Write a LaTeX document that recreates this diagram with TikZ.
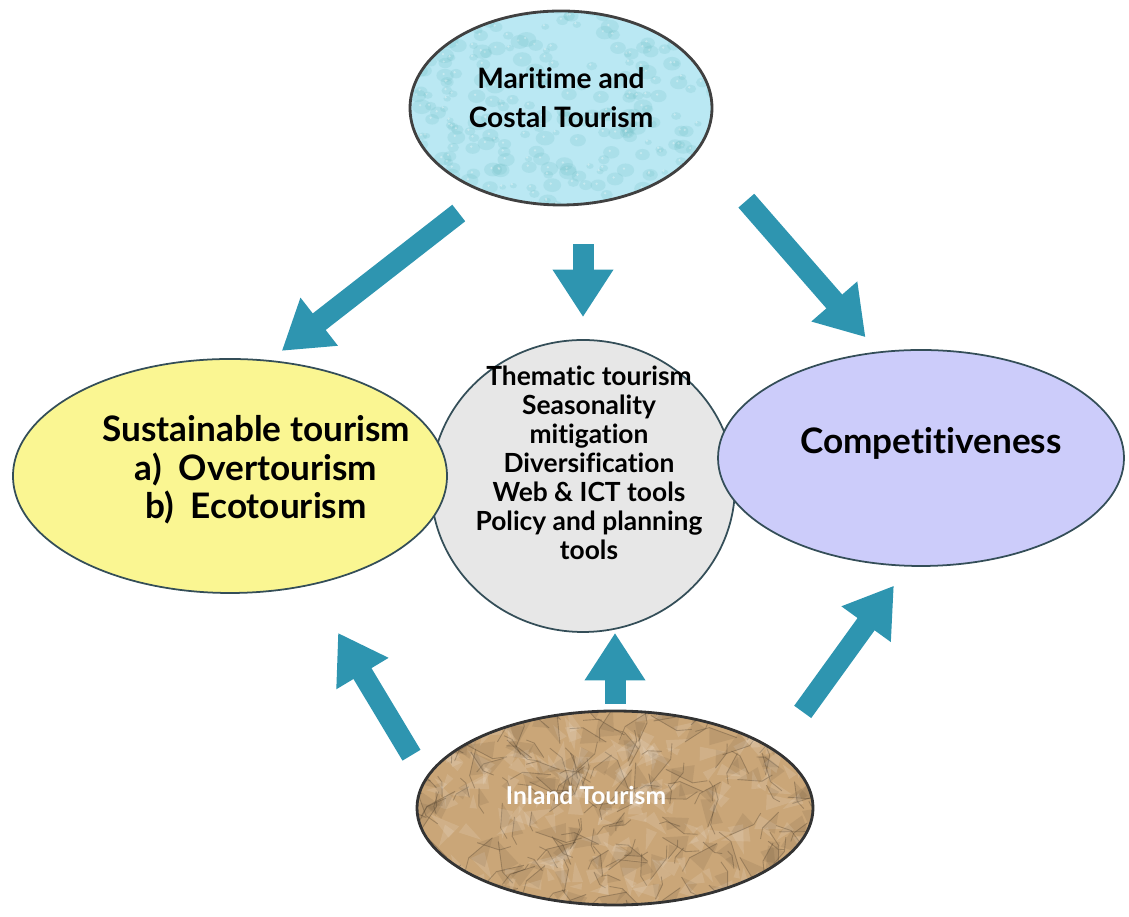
\documentclass[tikz,border=0pt]{standalone}
\usepackage{fontspec}
\setmainfont{Lato}[Ligatures=NoCommon]
\usetikzlibrary{arrows.meta,shapes.geometric}
\definecolor{flowteal}{RGB}{46,149,176}
\definecolor{rimgray}{RGB}{52,78,88}
\definecolor{seablue}{RGB}{186,232,243}
\definecolor{sandtan}{RGB}{202,166,120}
\definecolor{sunyellow}{RGB}{250,246,146}
\definecolor{lilac}{RGB}{204,204,250}
\definecolor{fog}{RGB}{231,231,231}
\newcommand{\pictureWidth}{22.58}
\newcommand{\pictureHeight}{18.34}
\newcommand{\bigFont}{\fontsize{20}{22}\selectfont\bfseries}
\newcommand{\listFont}{\fontsize{15}{16.5}\selectfont\bfseries}

\begin{document}
\begin{tikzpicture}[
    blob/.style={ellipse, draw=rimgray, line width=1pt, inner sep=0pt},
    flow/.style={draw=flowteal, line width=0.42cm, -{Triangle[length=0.95cm,width=1.15cm]}},
    caption/.style={align=center, text=black, font=\bigFont}]
\useasboundingbox (0,0) rectangle (\pictureWidth,\pictureHeight);
\pgfmathsetseed{7}
\node (themes) [blob, fill=fog, minimum width=6.08cm, minimum height=5.84cm] at (11.66,8.62) {};
\node (sustain) [blob, fill=sunyellow, minimum width=8.68cm, minimum height=4.68cm] at (4.60,8.82) {};
\node (compet) [blob, fill=lilac, minimum width=8.12cm, minimum height=4.32cm] at (18.42,9.18) {};
\node (maritime) [blob, line width=1.6pt, draw=black!75, fill=seablue, minimum width=6.04cm, minimum height=3.88cm,
    path picture={\foreach \k in {1,...,260}{
        \pgfmathsetmacro{\dx}{(rnd-0.5)*6.2}
        \pgfmathsetmacro{\dy}{(rnd-0.5)*4}
        \pgfmathsetmacro{\rr}{0.05+rnd*0.1}
        \fill[seablue!55!teal, opacity=.18] ([shift={(\dx,\dy)}]path picture bounding box.center) ellipse ({\rr*1.3} and \rr);
        \fill[white, opacity=.35] ([shift={(\dx-0.03,\dy+0.03)}]path picture bounding box.center) circle (0.025);}}]
    at (11.22,16.18) {};
\node (inland) [blob, line width=1.6pt, draw=black!80, fill=sandtan, minimum width=7.92cm, minimum height=3.88cm,
    path picture={\foreach \k in {1,...,200}{
        \pgfmathsetmacro{\dx}{(rnd-0.5)*8}
        \pgfmathsetmacro{\dy}{(rnd-0.5)*4}
        \pgfmathsetmacro{\ang}{rnd*360}
        \pgfmathsetmacro{\len}{0.25+rnd*0.4}
        \fill[sandtan!45!black, opacity=.12] ([shift={(\dx,\dy)}]path picture bounding box.center) -- ++(\ang:\len) -- ++(\ang+110:{\len*0.6}) -- cycle;
        \fill[white, opacity=.12] ([shift={(\dx+0.08,\dy+0.06)}]path picture bounding box.center) -- ++(\ang+180:\len) -- ++(\ang+70:{\len*0.5}) -- cycle;
        \draw[sandtan!40!black, opacity=.35, line width=.5pt] ([shift={(\dx,\dy)}]path picture bounding box.center) -- ++(\ang:\len) -- ++(\ang+35:{\len*0.5});}}]
    at (12.30,2.18) {};

\node (maritimetext) [caption, font=\fontsize{16}{22}\selectfont\bfseries] at ([yshift=0.2cm]maritime.center) {Maritime and\\Costal Tourism};
\node (sustaintext) [caption] at ([xshift=0.52cm,yshift=0.12cm]sustain.center) {Sustainable tourism\\a)~~Overtourism\\b)~~Ecotourism};
\node (complabel) [caption] at ([xshift=0.2cm,yshift=0.3cm]compet.center) {Competitiveness};
\node (themelist) [caption, font=\listFont] at ([xshift=0.12cm,yshift=0.46cm]themes.center) {Thematic tourism\\Seasonality\\mitigation\\Diversification\\Web \& ICT tools\\Policy and planning\\tools};
\node (inlandtext) [caption, text=white, font=\fontsize{14}{18}\selectfont\bfseries] at ([xshift=-0.58cm,yshift=0.26cm]inland.center) {Inland Tourism};

\draw[flow, shorten <=0.65cm, shorten >=0.3cm] (maritime.228) -- (sustain.71);
\draw[flow, shorten <=0.76cm, shorten >=0.44cm] (themes.north |- maritime.south) -- (themes.north);
\draw[flow, shorten <=1.4cm, shorten >=0.38cm] (maritime.-16) -- (compet.112);
\draw[flow, shorten <=0.53cm, shorten >=1.1cm] (inland.171) -- (sustain.306);
\draw[flow, shorten <=0.12cm] (inland.north) -- (inland.north |- themes.south);
\draw[flow, shorten <=0.93cm, shorten >=0.47cm] (inland.20) -- (compet.263);
\end{tikzpicture}
\end{document}
